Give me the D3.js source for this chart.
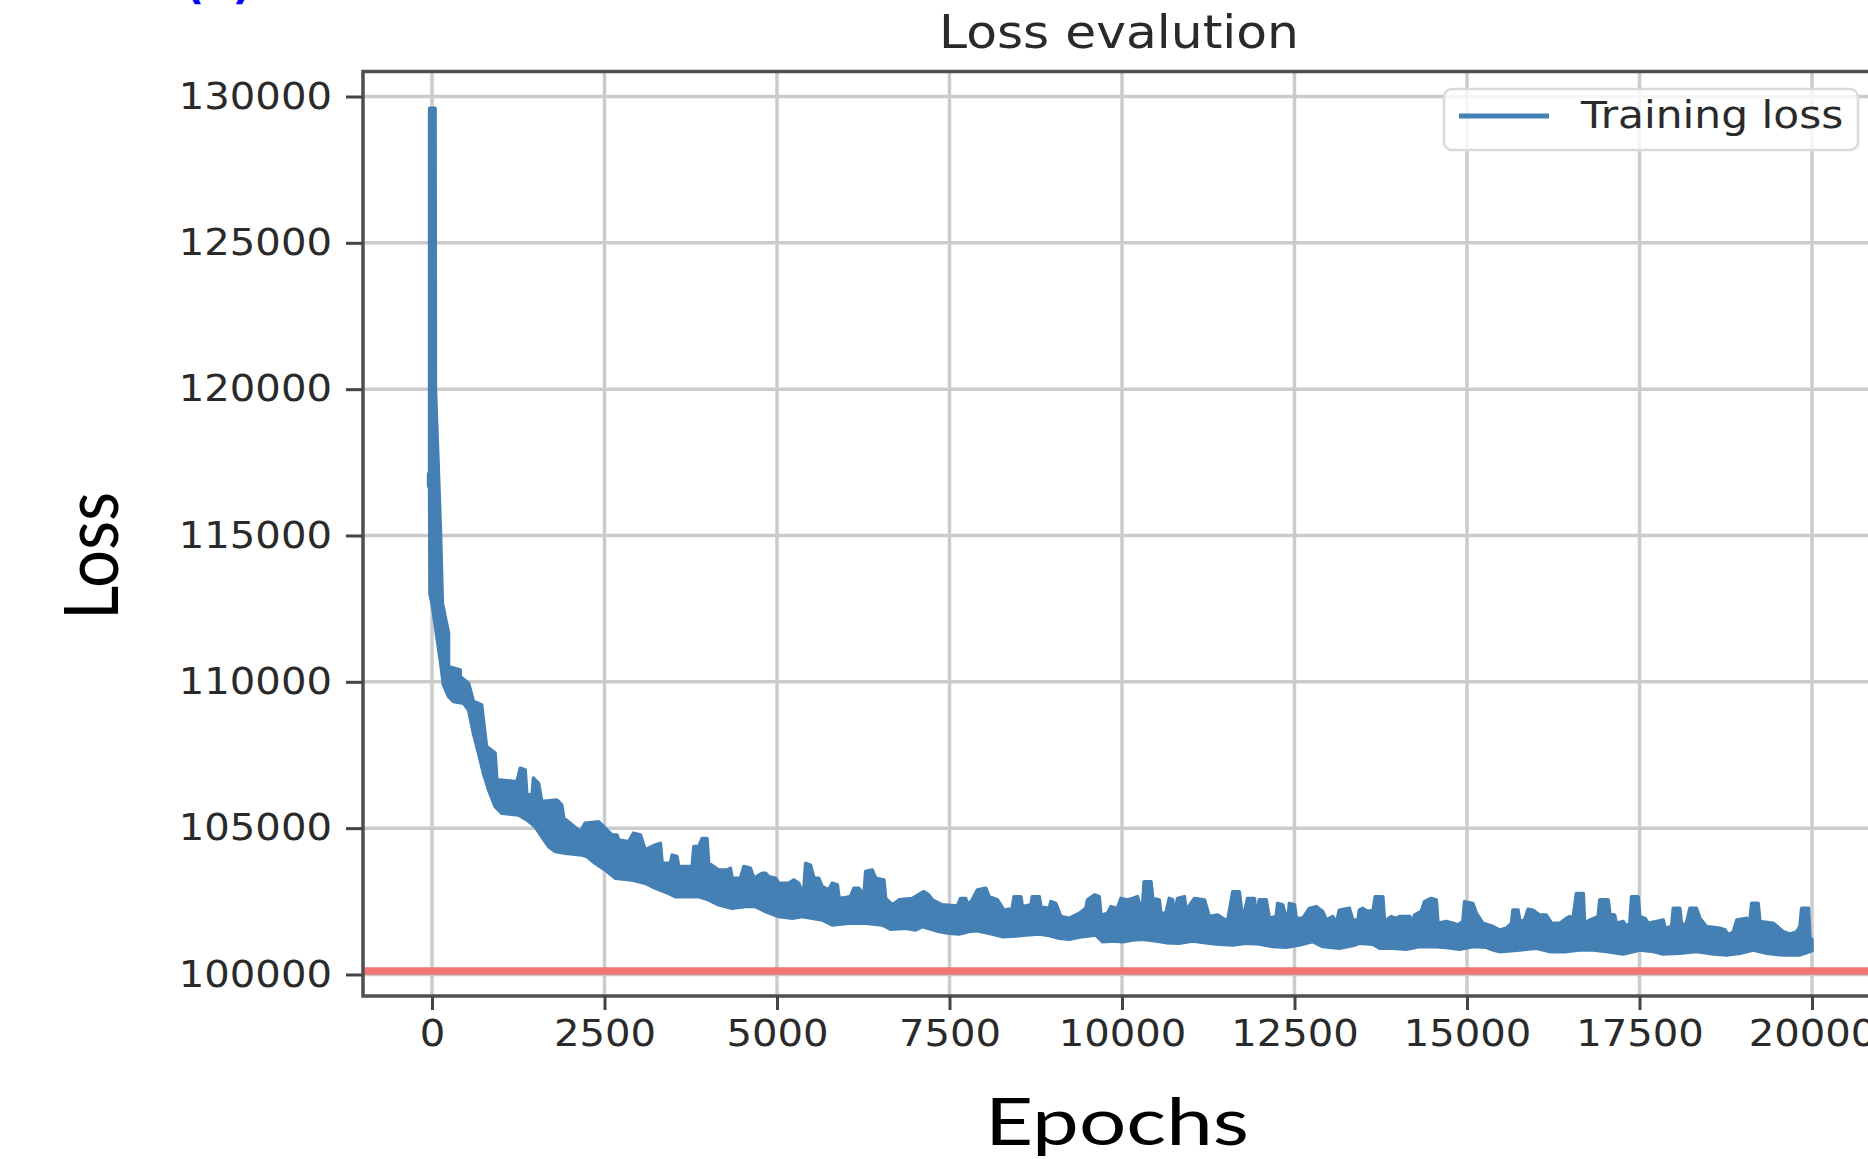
<!DOCTYPE html>
<meta charset="utf-8">
<style>

body {
  margin: 0;
  background: #fff;
}

svg {
  display: block;
}

.tick text {
  font-family: "DejaVu Sans", sans-serif;
  font-size: 36.5px;
  fill: #2a2a2a;
}

.tick line {
  stroke: #444;
  stroke-width: 3;
}

.grid line {
  stroke: #cbcbcb;
  stroke-width: 3.5;
}

</style>
<body>
<script src="https://d3js.org/d3.v7.min.js"></script>
<script>

var xTicks = [0, 2500, 5000, 7500, 10000, 12500, 15000, 17500, 20000];
var yTicks = [100000, 105000, 110000, 115000, 120000, 125000, 130000];

// reference level (red line)
var targetLoss = 100120;

// training loss is very noisy, so it is kept as the top and bottom edge
// of the band: [epoch, loss]
var lossUpper = [
  [-35, 129600], [45, 129600], [50, 119980], [85, 117700], [125, 114960], [150, 112690],
  [240, 111660], [240, 110520], [410, 110410], [410, 110180], [530, 109950], [600, 109330],
  [720, 109210], [750, 108590], [790, 107790], [915, 107560], [940, 106650], [1230, 106590],
  [1280, 107050], [1350, 106990], [1375, 106140], [1450, 106140], [1470, 106710], [1545, 106530],
  [1590, 105910], [1810, 105960], [1880, 105790], [1910, 105340], [2030, 105110], [2150, 104880],
  [2220, 105170], [2415, 105220], [2510, 105000], [2610, 104770], [2680, 104770], [2705, 104600],
  [2850, 104540], [2920, 104830], [3020, 104770], [3090, 104260], [3240, 104430], [3310, 104480],
  [3335, 103800], [3455, 103800], [3480, 104080], [3550, 104030], [3575, 103690], [3770, 103690],
  [3795, 104370], [3865, 104370], [3915, 104650], [3985, 104650], [4010, 103800], [4155, 103570],
  [4275, 103570], [4325, 103630], [4350, 103290], [4470, 103290], [4520, 103690], [4615, 103630],
  [4665, 103290], [4785, 103460], [4835, 103460], [4880, 103340], [4980, 103290], [5025, 103120],
  [5170, 103120], [5245, 103230], [5315, 103120], [5340, 102950], [5390, 102950], [5415, 103800],
  [5485, 103740], [5535, 103290], [5605, 103290], [5655, 103000], [5750, 102890], [5800, 103120],
  [5875, 103060], [5900, 102600], [6065, 102660], [6115, 102950], [6185, 102950], [6260, 102720],
  [6285, 103520], [6380, 103570], [6430, 103290], [6550, 103230], [6575, 102600], [6670, 102380],
  [6770, 102550], [6960, 102600], [7080, 102770], [7130, 102830], [7200, 102720], [7250, 102550],
  [7350, 102430], [7395, 102380], [7615, 102340], [7660, 102600], [7735, 102600], [7760, 102380],
  [7830, 102550], [7905, 102890], [8025, 102950], [8075, 102660], [8195, 102550], [8290, 102200],
  [8410, 102260], [8435, 102660], [8535, 102660], [8555, 102320], [8680, 102380], [8700, 102660],
  [8800, 102660], [8825, 102320], [8945, 102260], [8970, 102490], [9040, 102430], [9115, 101980],
  [9235, 101920], [9380, 102090], [9475, 102260], [9500, 102550], [9600, 102720], [9670, 102660],
  [9695, 102030], [9790, 102090], [9840, 102320], [9935, 102260], [9985, 102600], [10080, 102550],
  [10155, 102600], [10225, 102660], [10250, 102430], [10300, 102430], [10320, 103170], [10420, 103170],
  [10445, 102600], [10540, 102550], [10565, 102090], [10635, 102090], [10685, 102600], [10735, 102550],
  [10760, 101980], [10805, 102600], [10905, 102660], [10925, 102200], [11000, 102430], [11050, 102600],
  [11195, 102550], [11265, 101980], [11385, 102030], [11530, 101810], [11605, 102830], [11700, 102830],
  [11750, 101860], [11820, 102600], [11920, 102600], [11945, 101860], [11990, 102550], [12090, 102550],
  [12135, 101920], [12235, 101980], [12255, 102430], [12330, 102380], [12400, 101750], [12425, 102430],
  [12500, 102380], [12525, 101920], [12620, 101920], [12715, 102260], [12815, 102320], [12910, 102150],
  [12960, 101860], [13055, 101980], [13105, 101750], [13150, 102200], [13295, 102260], [13345, 101860],
  [13420, 101860], [13440, 102200], [13490, 102260], [13560, 102150], [13640, 102200], [13670, 102660],
  [13780, 102660], [13805, 101810], [13900, 101980], [13975, 101920], [14020, 101980], [14170, 101980],
  [14190, 101690], [14240, 102030], [14335, 102150], [14385, 102490], [14480, 102600], [14555, 102550],
  [14580, 101750], [14700, 101810], [14795, 101750], [14870, 101690], [14940, 101810], [14965, 102490],
  [15085, 102430], [15135, 102090], [15230, 101750], [15375, 101640], [15475, 101520], [15570, 101580],
  [15645, 101750], [15665, 102200], [15740, 102200], [15765, 101810], [15835, 101860], [15885, 102230],
  [15955, 102200], [16055, 102030], [16150, 102030], [16225, 101750], [16345, 101750], [16440, 101920],
  [16490, 101980], [16515, 101520], [16585, 102770], [16685, 102770], [16705, 101750], [16780, 101860],
  [16900, 101980], [16925, 102550], [17045, 102550], [17070, 102090], [17140, 102030], [17165, 101750],
  [17265, 101810], [17310, 101640], [17360, 101750], [17385, 102660], [17480, 102660], [17505, 101980],
  [17580, 101920], [17625, 101750], [17745, 101810], [17845, 101860], [17870, 101580], [17965, 101640],
  [17990, 102260], [18085, 102260], [18110, 101690], [18180, 101750], [18230, 102260], [18325, 102260],
  [18375, 101920], [18470, 101640], [18665, 101580], [18740, 101520], [18785, 101350], [18860, 101460],
  [18910, 101860], [19055, 101920], [19100, 101810], [19125, 102430], [19220, 102430], [19245, 101810],
  [19440, 101750], [19585, 101460], [19680, 101380], [19780, 101460], [19825, 101640], [19850, 102260],
  [19950, 102260], [19970, 101290], [20000, 101180]
];

var lossLower = [
  [-35, 129600], [-35, 117200], [-50, 117100], [-50, 116700], [-35, 116600], [-30, 113000],
  [0, 112690], [70, 111550], [120, 110750], [165, 109900], [240, 109500], [310, 109330],
  [455, 109270], [530, 109040], [600, 108240], [675, 107560], [745, 106880], [820, 106310],
  [915, 105740], [1010, 105510], [1255, 105450], [1375, 105280], [1495, 105050], [1590, 104710],
  [1690, 104370], [1785, 104200], [1930, 104140], [2175, 104080], [2245, 104030], [2365, 103800],
  [2510, 103570], [2655, 103290], [2900, 103230], [3090, 103120], [3235, 102950], [3430, 102770],
  [3525, 102660], [3865, 102660], [4010, 102550], [4155, 102380], [4350, 102260], [4545, 102320],
  [4690, 102320], [4835, 102150], [5025, 101980], [5220, 101920], [5365, 101980], [5510, 101920],
  [5655, 101860], [5800, 101690], [6040, 101750], [6285, 101750], [6525, 101690], [6646, 101544],
  [6864, 101578], [7009, 101521], [7106, 101635], [7348, 101464], [7493, 101407], [7638, 101385],
  [7783, 101464], [7880, 101498], [8073, 101407], [8267, 101293], [8460, 101316], [8605, 101350],
  [8799, 101385], [8944, 101328], [9089, 101236], [9234, 101202], [9428, 101293], [9621, 101350],
  [9718, 101122], [9863, 101145], [10008, 101122], [10153, 101179], [10298, 101202], [10492, 101145],
  [10637, 101088], [10830, 101066], [11024, 101145], [11266, 101066], [11411, 101031], [11604, 101008],
  [11798, 101066], [11991, 101043], [12185, 100952], [12378, 100929], [12571, 101008], [12765, 101122],
  [12910, 100952], [13152, 100895], [13345, 100986], [13442, 101066], [13635, 101031], [13732, 100895],
  [13926, 100895], [14119, 100860], [14313, 100952], [14506, 100952], [14700, 100918], [14893, 100860],
  [15087, 100952], [15280, 100929], [15377, 100838], [15474, 100781], [15764, 100838], [16006, 100895],
  [16199, 100781], [16441, 100781], [16634, 100838], [16828, 100838], [17021, 100781], [17263, 100701],
  [17505, 100838], [17699, 100781], [17844, 100701], [18086, 100724], [18327, 100781], [18569, 100701],
  [18763, 100667], [18956, 100724], [19150, 100838], [19343, 100724], [19585, 100667], [19827, 100667],
  [19924, 100747], [20000, 100815]
];

var width = 1868,
    height = 1159;

// axes box (right edge runs past the picture, as in the original)
var plotLeft = 363,
    plotRight = 1881,
    plotTop = 71.5,
    plotBottom = 996;

var lineColor = "#4580b5";

var x = d3.scaleLinear()
    .domain([-1000, 21000])
    .range([plotLeft, plotRight]);

var y = d3.scaleLinear()
    .domain([99265, 130854])
    .range([plotBottom, plotTop]);

var svg = d3.select("body").append("svg")
    .attr("width", width)
    .attr("height", height);

// stretch text sideways a little, the source image is wider than tall
function stretch(sel, k) {
  sel.each(function() {
    var w = this.getComputedTextLength();
    d3.select(this)
        .attr("textLength", w * k)
        .attr("lengthAdjust", "spacingAndGlyphs");
  });
}

// grid
var grid = svg.append("g").attr("class", "grid");

grid.selectAll(".gx")
    .data(xTicks)
  .enter().append("line")
    .attr("x1", function(d) { return x(d); })
    .attr("x2", function(d) { return x(d); })
    .attr("y1", plotTop)
    .attr("y2", plotBottom);

grid.selectAll(".gy")
    .data(yTicks)
  .enter().append("line")
    .attr("x1", plotLeft)
    .attr("x2", plotRight)
    .attr("y1", function(d) { return y(d); })
    .attr("y2", function(d) { return y(d); });

// training loss band
var line = d3.line()
    .x(function(d) { return x(d[0]); })
    .y(function(d) { return y(d[1]); });

svg.append("path")
    .datum(lossUpper.concat(lossLower.slice().reverse()))
    .attr("d", function(d) { return line(d) + "Z"; })
    .attr("fill", lineColor)
    .attr("stroke", lineColor)
    .attr("stroke-width", 3.5)
    .attr("stroke-linejoin", "round");

// red reference line
svg.append("line")
    .attr("x1", plotLeft)
    .attr("x2", plotRight)
    .attr("y1", y(targetLoss))
    .attr("y2", y(targetLoss))
    .attr("stroke", "#f06e6e")
    .attr("stroke-opacity", 0.95)
    .attr("stroke-width", 7.5);

// frame
svg.append("rect")
    .attr("x", plotLeft)
    .attr("y", plotTop)
    .attr("width", plotRight - plotLeft)
    .attr("height", plotBottom - plotTop)
    .attr("fill", "none")
    .attr("stroke", "#4f4f4f")
    .attr("stroke-width", 3.5);

// axes
var yAxis = svg.append("g")
    .attr("transform", "translate(" + plotLeft + ",0)")
    .call(d3.axisLeft(y)
      .tickValues(yTicks)
      .tickSize(17)
      .tickPadding(14)
      .tickFormat(d3.format("d")));
yAxis.select(".domain").remove();
stretch(yAxis.selectAll("text"), 1.1);

var xAxis = svg.append("g")
    .attr("transform", "translate(0," + plotBottom + ")")
    .call(d3.axisBottom(x)
      .tickValues(xTicks)
      .tickSize(14)
      .tickPadding(10)
      .tickFormat(d3.format("d")));
xAxis.select(".domain").remove();
xAxis.selectAll("text").attr("dy", "0.71em");
stretch(xAxis.selectAll("text"), 1.1);

// title
svg.append("text")
    .attr("x", 1119)
    .attr("y", 48)
    .attr("text-anchor", "middle")
    .style("font-family", "DejaVu Sans, sans-serif")
    .style("font-size", "47px")
    .style("fill", "#2a2a2a")
    .text("Loss evalution")
    .call(stretch, 1.07);

// axis labels
svg.append("text")
    .attr("x", 1117)
    .attr("y", 1145)
    .attr("text-anchor", "middle")
    .style("font-family", "Lato, sans-serif")
    .style("font-size", "66px")
    .style("fill", "#000")
    .text("Epochs")
    .attr("textLength", 264)
    .attr("lengthAdjust", "spacingAndGlyphs");

svg.append("text")
    .attr("transform", "translate(118,556) rotate(-90)")
    .attr("text-anchor", "middle")
    .style("font-family", "Lato, sans-serif")
    .style("font-size", "76px")
    .style("fill", "#000")
    .text("Loss")
    .attr("textLength", 128)
    .attr("lengthAdjust", "spacingAndGlyphs");

// cut-off panel tag at the very top
svg.append("text")
    .attr("x", 185)
    .attr("y", -1)
    .style("font-family", "DejaVu Sans, sans-serif")
    .style("font-weight", "bold")
    .style("font-size", "42px")
    .style("fill", "#0000ff")
    .text("(a)");

// legend
var legend = svg.append("g")
    .attr("transform", "translate(1444,89)");

legend.append("rect")
    .attr("width", 414)
    .attr("height", 61)
    .attr("rx", 8)
    .attr("fill", "#fff")
    .attr("fill-opacity", 0.8)
    .attr("stroke", "#dadada")
    .attr("stroke-width", 2.5);

legend.append("line")
    .attr("x1", 15)
    .attr("x2", 105)
    .attr("y1", 27)
    .attr("y2", 27)
    .attr("stroke", lineColor)
    .attr("stroke-width", 5);

legend.append("text")
    .attr("x", 137)
    .attr("y", 39)
    .style("font-family", "DejaVu Sans, sans-serif")
    .style("font-size", "36.5px")
    .style("fill", "#2a2a2a")
    .text("Training loss")
    .call(stretch, 1.16);

</script>
